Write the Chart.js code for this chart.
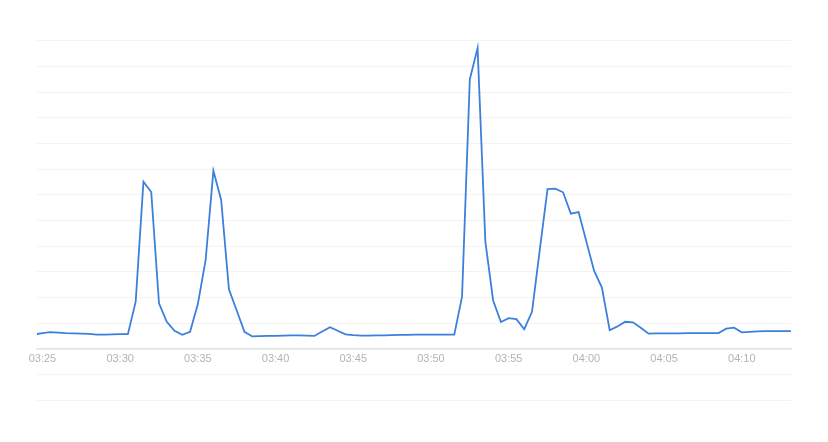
<!DOCTYPE html>
<html>
<head>
<meta charset="utf-8">
<script src="https://cdn.jsdelivr.net/npm/chart.js@4/dist/chart.umd.min.js"></script>
<style>
  html, body { margin: 0; padding: 0; background: #ffffff; }
  #wrap { width: 828px; height: 442px; position: relative; }
</style>
</head>
<body>
<div id="wrap"><canvas id="c" width="828" height="442"></canvas></div>
<script>
// Sample times (30 s interval)
const times = [
  '03:24:30',
  '03:25:00','03:25:30','03:26:00','03:26:30','03:27:00','03:27:30','03:28:00','03:28:30','03:29:00','03:29:30',
  '03:30:00','03:30:30','03:31:00','03:31:30','03:32:00','03:32:30','03:33:00','03:33:30','03:34:00','03:34:30',
  '03:35:00','03:35:30','03:36:00','03:36:30','03:37:00','03:37:30','03:38:00','03:38:30','03:39:00','03:39:30',
  '03:40:00','03:40:30','03:41:00','03:41:30','03:42:00','03:42:30','03:43:00','03:43:30','03:44:00','03:44:30',
  '03:45:00','03:45:30','03:46:00','03:46:30','03:47:00','03:47:30','03:48:00','03:48:30','03:49:00','03:49:30',
  '03:50:00','03:50:30','03:51:00','03:51:30','03:52:00','03:52:30','03:53:00','03:53:30','03:54:00','03:54:30',
  '03:55:00','03:55:30','03:56:00','03:56:30','03:57:00','03:57:30','03:58:00','03:58:30','03:59:00','03:59:30',
  '04:00:00','04:00:30','04:01:00','04:01:30','04:02:00','04:02:30','04:03:00','04:03:30','04:04:00','04:04:30',
  '04:05:00','04:05:30','04:06:00','04:06:30','04:07:00','04:07:30','04:08:00','04:08:30','04:09:00','04:09:30',
  '04:10:00','04:10:30','04:11:00','04:11:30','04:12:00','04:12:30','04:13:00','04:13:30'
];

// Series values
const values = [
  5.7,
  6.2, 6.6, 6.4, 6.2, 6.1, 6.0, 5.9, 5.6, 5.6, 5.7,
  5.8, 5.8, 18.4, 65.1, 61.1, 17.8, 10.6, 7.1, 5.5, 6.7,
  17.5, 34.6, 69.4, 58.0, 23.2, 15.0, 6.7, 4.9, 5.0, 5.1,
  5.1, 5.2, 5.3, 5.3, 5.2, 5.1, 6.8, 8.5, 7.1, 5.7,
  5.4, 5.2, 5.2, 5.3, 5.3, 5.4, 5.5, 5.5, 5.6, 5.6,
  5.6, 5.6, 5.6, 5.6, 20.4, 105.0, 117.1, 41.8, 18.9, 10.5,
  12.0, 11.6, 7.7, 14.5, 38.5, 62.2, 62.4, 61.0, 52.7, 53.3,
  41.8, 30.4, 23.9, 7.3, 8.8, 10.6, 10.4, 8.3, 6.0, 6.1,
  6.1, 6.1, 6.1, 6.2, 6.2, 6.2, 6.2, 6.2, 7.9, 8.3,
  6.5, 6.7, 6.9, 7.0, 7.0, 7.0, 7.0, 6.8
];

// Tick labels on the time axis
const tickLabels = ['03:25','03:30','03:35','03:40','03:45','03:50','03:55','04:00','04:05','04:10'];

// Visible time window
const timeWindow = ['03:24:39', '04:13:10'];

function toMin(s) {
  const p = s.split(':').map(Number);
  return p[0] * 60 + p[1] + (p[2] || 0) / 60;
}
function fmt(v) {
  const h = Math.floor(v / 60 + 1e-9);
  const m = Math.round(v - h * 60);
  return String(h).padStart(2, '0') + ':' + String(m).padStart(2, '0');
}

const points = times.map((t, i) => ({ x: toMin(t), y: values[i] }));

new Chart(document.getElementById('c'), {
  type: 'line',
  data: {
    datasets: [{
      data: points,
      borderColor: '#3a80dc',
      borderWidth: 1.8,
      pointRadius: 0,
      pointHoverRadius: 0,
      tension: 0,
      fill: false
    }]
  },
  options: {
    responsive: false,
    animation: false,
    devicePixelRatio: 1,
    layout: { padding: { left: 37, right: 37, top: 40.7, bottom: 41.6 } },
    plugins: { legend: { display: false }, tooltip: { enabled: false } },
    scales: {
      x: {
        type: 'linear',
        position: { y: 0 },
        min: toMin(timeWindow[0]),
        max: toMin(timeWindow[1]),
        afterBuildTicks: s => { s.ticks = tickLabels.map(l => ({ value: toMin(l) })); },
        afterFit: s => { s.height = 0; },
        grid: { display: false, drawTicks: false, tickLength: 0 },
        border: { display: true, color: '#e2e2e2', width: 1.5 },
        ticks: {
          autoSkip: false,
          maxRotation: 0,
          padding: 3,
          color: '#b4b4b4',
          font: { family: 'Liberation Sans, Arial, sans-serif', size: 11 },
          callback: v => fmt(v)
        }
      },
      y: {
        min: -20,
        max: 120,
        afterFit: s => { s.width = 0; },
        ticks: { display: false, stepSize: 10 },
        grid: { color: '#f3f3f3', lineWidth: 1, drawTicks: false },
        border: { display: false }
      }
    }
  }
});
</script>
</body>
</html>
